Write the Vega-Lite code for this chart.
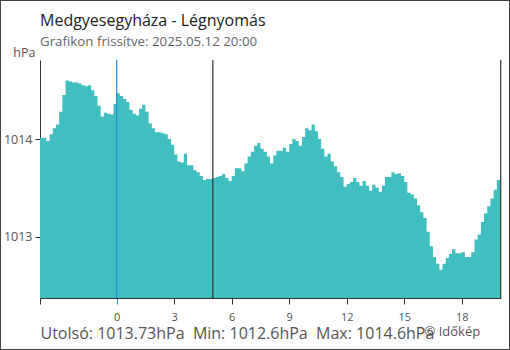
{
  "$schema": "https://vega.github.io/schema/vega-lite/v6.json",
  "width": 510,
  "height": 350,
  "autosize": {"type": "none"},
  "padding": 0,
  "background": "white",
  "config": {"view": {"stroke": "#444", "strokeWidth": 2}, "font": "Open Sans"},
  "title": {
    "text": "Medgyesegyháza - Légnyomás",
    "subtitle": "Grafikon frissítve: 2025.05.12 20:00",
    "anchor": "start",
    "frame": "group",
    "dx": 40,
    "offset": -48,
    "fontSize": 16,
    "fontWeight": "normal",
    "color": "#222",
    "subtitleFontSize": 13.3,
    "subtitleColor": "#666",
    "subtitlePadding": 6
  },
  "data": {"values": [
    {"m": -240, "p": 1014.01}, {"m": -230, "p": 1014.01}, {"m": -220, "p": 1013.98}, {"m": -210, "p": 1014.05},
    {"m": -200, "p": 1014.11}, {"m": -190, "p": 1014.15}, {"m": -180, "p": 1014.28}, {"m": -170, "p": 1014.45},
    {"m": -160, "p": 1014.60}, {"m": -150, "p": 1014.59}, {"m": -140, "p": 1014.58}, {"m": -130, "p": 1014.58},
    {"m": -120, "p": 1014.57}, {"m": -110, "p": 1014.55}, {"m": -100, "p": 1014.54}, {"m": -90, "p": 1014.55},
    {"m": -80, "p": 1014.50}, {"m": -70, "p": 1014.44}, {"m": -60, "p": 1014.34}, {"m": -50, "p": 1014.23},
    {"m": -40, "p": 1014.27}, {"m": -30, "p": 1014.26}, {"m": -20, "p": 1014.25}, {"m": -10, "p": 1014.36},
    {"m": 0, "p": 1014.47}, {"m": 10, "p": 1014.44}, {"m": 20, "p": 1014.41}, {"m": 30, "p": 1014.38},
    {"m": 40, "p": 1014.30}, {"m": 50, "p": 1014.26}, {"m": 60, "p": 1014.24}, {"m": 70, "p": 1014.31},
    {"m": 80, "p": 1014.35}, {"m": 90, "p": 1014.28}, {"m": 100, "p": 1014.16}, {"m": 110, "p": 1014.11},
    {"m": 120, "p": 1014.07}, {"m": 130, "p": 1014.07}, {"m": 140, "p": 1014.06}, {"m": 150, "p": 1014.05},
    {"m": 160, "p": 1014.00}, {"m": 170, "p": 1013.94}, {"m": 180, "p": 1013.84}, {"m": 190, "p": 1013.77},
    {"m": 200, "p": 1013.76}, {"m": 210, "p": 1013.85}, {"m": 220, "p": 1013.73}, {"m": 230, "p": 1013.73},
    {"m": 240, "p": 1013.68}, {"m": 250, "p": 1013.66}, {"m": 260, "p": 1013.62}, {"m": 270, "p": 1013.58},
    {"m": 280, "p": 1013.59}, {"m": 290, "p": 1013.59}, {"m": 300, "p": 1013.60}, {"m": 310, "p": 1013.61},
    {"m": 320, "p": 1013.62}, {"m": 330, "p": 1013.64}, {"m": 340, "p": 1013.60}, {"m": 350, "p": 1013.57},
    {"m": 360, "p": 1013.62}, {"m": 370, "p": 1013.70}, {"m": 380, "p": 1013.70}, {"m": 390, "p": 1013.67},
    {"m": 400, "p": 1013.75}, {"m": 410, "p": 1013.82}, {"m": 420, "p": 1013.87}, {"m": 430, "p": 1013.93},
    {"m": 440, "p": 1013.96}, {"m": 450, "p": 1013.90}, {"m": 460, "p": 1013.87}, {"m": 470, "p": 1013.82},
    {"m": 480, "p": 1013.75}, {"m": 490, "p": 1013.83}, {"m": 500, "p": 1013.88}, {"m": 510, "p": 1013.88},
    {"m": 520, "p": 1013.91}, {"m": 530, "p": 1013.87}, {"m": 540, "p": 1013.95}, {"m": 550, "p": 1014.00},
    {"m": 560, "p": 1013.98}, {"m": 570, "p": 1013.93}, {"m": 580, "p": 1014.02}, {"m": 590, "p": 1014.11},
    {"m": 600, "p": 1014.09}, {"m": 610, "p": 1014.15}, {"m": 620, "p": 1014.08}, {"m": 630, "p": 1014.00},
    {"m": 640, "p": 1013.90}, {"m": 650, "p": 1013.82}, {"m": 660, "p": 1013.85}, {"m": 670, "p": 1013.77},
    {"m": 680, "p": 1013.72}, {"m": 690, "p": 1013.66}, {"m": 700, "p": 1013.61}, {"m": 710, "p": 1013.51},
    {"m": 720, "p": 1013.54}, {"m": 730, "p": 1013.56}, {"m": 740, "p": 1013.60}, {"m": 750, "p": 1013.56},
    {"m": 760, "p": 1013.52}, {"m": 770, "p": 1013.57}, {"m": 780, "p": 1013.52}, {"m": 790, "p": 1013.47},
    {"m": 800, "p": 1013.53}, {"m": 810, "p": 1013.50}, {"m": 820, "p": 1013.46}, {"m": 830, "p": 1013.52},
    {"m": 840, "p": 1013.61}, {"m": 850, "p": 1013.61}, {"m": 860, "p": 1013.66}, {"m": 870, "p": 1013.64},
    {"m": 880, "p": 1013.65}, {"m": 890, "p": 1013.62}, {"m": 900, "p": 1013.56}, {"m": 910, "p": 1013.45},
    {"m": 920, "p": 1013.43}, {"m": 930, "p": 1013.39}, {"m": 940, "p": 1013.32}, {"m": 950, "p": 1013.25},
    {"m": 960, "p": 1013.19}, {"m": 970, "p": 1013.05}, {"m": 980, "p": 1012.90}, {"m": 990, "p": 1012.79},
    {"m": 1000, "p": 1012.72}, {"m": 1010, "p": 1012.66}, {"m": 1020, "p": 1012.72}, {"m": 1030, "p": 1012.78},
    {"m": 1040, "p": 1012.82}, {"m": 1050, "p": 1012.87}, {"m": 1060, "p": 1012.83}, {"m": 1070, "p": 1012.83},
    {"m": 1080, "p": 1012.84}, {"m": 1090, "p": 1012.79}, {"m": 1100, "p": 1012.79}, {"m": 1110, "p": 1012.84},
    {"m": 1120, "p": 1012.97}, {"m": 1130, "p": 1013.02}, {"m": 1140, "p": 1013.15}, {"m": 1150, "p": 1013.24},
    {"m": 1160, "p": 1013.31}, {"m": 1170, "p": 1013.39}, {"m": 1180, "p": 1013.48}, {"m": 1190, "p": 1013.58},
    {"m": 1200, "p": 1013.73}
  ]},
  "layer": [
    {
      "mark": {"type": "area", "interpolate": "step-after", "color": "#41bfc0"},
      "encoding": {
        "x": {
          "field": "m", "type": "quantitative",
          "scale": {"domain": [-240, 1203], "range": [40, 501], "nice": false, "zero": false},
          "axis": {
            "orient": "bottom", "offset": -52,
            "values": [-240, 0, 180, 360, 540, 720, 900, 1080],
            "labelExpr": "datum.value < -200 ? '' : format(datum.value / 60, 'd')",
            "grid": false, "domainColor": "#333",
            "tickColor": {"condition": {"test": "datum.value === 0", "value": "#2a8ad4"}, "value": "#333"},
            "tickSize": 6, "labelFontSize": 11, "labelColor": "#555", "labelPadding": 7,
            "title": "Utolsó: 1013.73hPa\u00a0 Min: 1012.6hPa\u00a0 Max: 1014.6hPa",
            "titleX": 40, "titleY": 40, "titleAlign": "left", "titleAnchor": "start",
            "titleBaseline": "alphabetic", "titleFontSize": 16, "titleFontWeight": "normal", "titleColor": "#555"
          }
        },
        "y": {
          "field": "p", "type": "quantitative",
          "scale": {"domain": [1012.37, 1014.81], "range": [298, 60], "nice": false, "zero": false},
          "axis": {
            "orient": "left", "offset": -40, "values": [1013, 1014], "format": "d",
            "grid": false, "domainColor": "#333", "tickColor": "#333", "tickSize": 5,
            "labelFontSize": 12.5, "labelColor": "#555", "labelPadding": 3,
            "title": "hPa", "titleAngle": 0, "titleX": -5, "titleY": 56, "titleAlign": "right",
            "titleBaseline": "alphabetic", "titleFontSize": 12.5, "titleFontWeight": "normal", "titleColor": "#555"
          }
        },
        "y2": {"datum": 1012.37}
      }
    },
    {
      "data": {"values": [{"m": 0, "c": "mid"}, {"m": 301, "c": "sun"}, {"m": 1202, "c": "sun"}]},
      "mark": {"type": "rule", "strokeWidth": 1.2},
      "encoding": {
        "x": {
          "field": "m", "type": "quantitative",
          "axis": {
            "orient": "top", "domain": false, "ticks": false, "labels": false, "grid": false,
            "title": "© Időkép", "titleX": 424, "titleY": 335, "titleAlign": "left",
            "titleBaseline": "alphabetic", "titleFontSize": 13, "titleFontWeight": "normal", "titleColor": "#555"
          }
        },
        "y": {"datum": 1014.81},
        "y2": {"datum": 1012.37},
        "color": {"field": "c", "type": "nominal", "scale": {"domain": ["mid", "sun"], "range": ["#2a8ad4", "#333"]}, "legend": null}
      }
    }
  ],
  "resolve": {"axis": {"x": "independent"}}
}
